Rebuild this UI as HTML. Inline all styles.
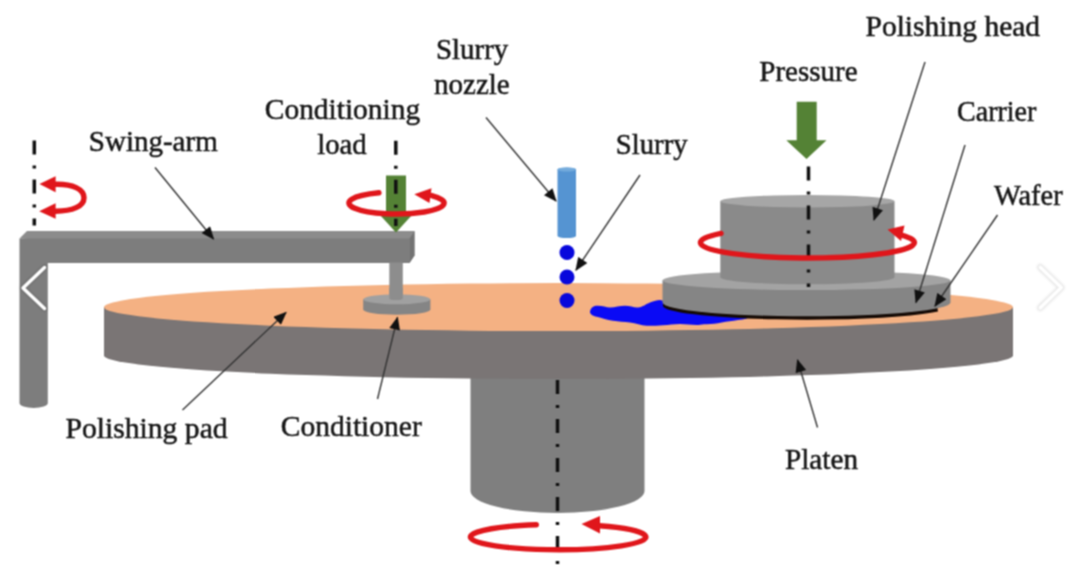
<!DOCTYPE html>
<html lang="en">
<head>
<meta charset="utf-8">
<title>CMP schematic</title>
<style>
html,body{margin:0;padding:0;background:#fff;}
body{width:1080px;height:570px;overflow:hidden;position:relative;font-family:"Liberation Serif",serif;}
svg{position:absolute;left:0;top:0;display:block;}
text{font-family:"Liberation Serif",serif;font-size:29px;fill:#161616;stroke:#161616;stroke-width:0.5px;}
.ln{stroke:#333;stroke-width:1.4;fill:none;}
.ax{stroke:#111;stroke-width:3.5;fill:none;stroke-dasharray:14 11 3 11;}
.red{stroke:#e0161b;stroke-width:5.4;fill:none;stroke-linecap:round;}
.redf{fill:#e0161b;}
</style>
</head>
<body>
<svg width="1080" height="570" viewBox="0 0 1080 570">
<defs>
<marker id="ah" viewBox="0 0 12 10" refX="11" refY="5" markerWidth="14" markerHeight="11" markerUnits="userSpaceOnUse" orient="auto">
<path d="M0,0 L12,5 L0,10 Z" fill="#111"/>
</marker>
<filter id="sh" x="-50%" y="-50%" width="200%" height="200%"><feGaussianBlur stdDeviation="1.2"/></filter>
<filter id="soft" x="0" y="0" width="1080" height="570" filterUnits="userSpaceOnUse" color-interpolation-filters="sRGB"><feConvolveMatrix order="3" kernelMatrix="1 2 1 2 4 2 1 2 1" divisor="16" edgeMode="duplicate" preserveAlpha="false"/></filter>
</defs>
<g filter="url(#soft)">
<rect width="1080" height="570" fill="#fff"/>

<!-- shaft under platen -->
<path d="M470.5,360 L470.5,491 A87,22 0 0 0 644.5,491 L644.5,360 Z" fill="#7f7f7f"/>

<!-- platen side -->
<path d="M104,307 L104,355.5 A454.5,23.5 0 0 0 1013,355.5 L1013,307 Z" fill="#7a7575"/>
<!-- pad top -->
<ellipse cx="558.5" cy="307.1" rx="454.5" ry="24" fill="#f4b183"/>

<!-- slurry blob -->
<path id="blob" d="M590,311.7 C591,307 594,306 597,305.8 C602,305.5 606,307.5 610,307.5 C615,307.5 620,305.8 625,305.8 C630,305.8 634,307.8 638,307.5 C643,307 646,304 650,302.5 C654,301 657,300 660,300 L664,301 L700,310 L748,316.5 L747,318.5 C744,319.5 741,319.5 738,320 C732,321 727,321.5 721.7,322.5 C716,323.5 710,324.5 705,324.2 C702,324 699,325 696.7,325 C691,325 686,324 680,324 C674,324 669,325 663,325.2 C657,325.5 652,326 646.7,325.8 C641,325.5 636,323 630,322.5 C624,322 619,321.5 613,320.8 C607,320 602,318 596.7,316.7 C593,315.8 590,314.5 590,311.7 Z" fill="#0a0af5"/>

<!-- wafer -->
<path d="M663,305.5 A144,14 0 0 0 938,311.5 L936,299 L663,299 Z" fill="#140a05"/>
<!-- carrier -->
<path d="M662.5,280.3 L662.5,302.5 A144,13.8 0 0 0 950.5,302.5 L950.5,280.3 Z" fill="#858585"/>
<ellipse cx="806.5" cy="280.3" rx="144" ry="9.8" fill="#a3a3a3"/>

<!-- red ring back half (behind head) -->
<!-- head -->
<path d="M720.3,201.2 L720.3,277.3 A87.1,6.9 0 0 0 894.5,277.3 L894.5,201.2 Z" fill="#8a8a8a"/>
<ellipse cx="807.4" cy="201.2" rx="87.1" ry="6.3" fill="#a6a6a6"/>

<!-- arm -->
<path d="M19.5,238.5 L27,231 L414.5,231 L414.5,255.5 L409.5,263 Z" fill="#8c8c8c"/>
<path d="M19.5,238.5 L409.5,238.5 L409.5,263 L47.8,263 L47.8,403 A14.15,5 0 0 1 19.5,403 Z" fill="#7d7d7d"/>
<path d="M409.5,238.5 L414.5,231 L414.5,255.5 L409.5,263 Z" fill="#737373"/>

<!-- conditioner -->
<rect x="389.3" y="262.5" width="13.5" height="36" fill="#8d8d8d"/>
<path d="M363.2,299.3 L363.2,309.5 A33.6,5.2 0 0 0 430.4,309.5 L430.4,299.3 Z" fill="#858585"/>
<ellipse cx="396.8" cy="299.3" rx="33.6" ry="5" fill="#a0a0a0"/>
<path d="M389.3,288 L402.8,288 L402.8,298.5 A6.75,1.6 0 0 1 389.3,298.5 Z" fill="#8d8d8d"/>

<!-- nozzle -->
<path d="M557.5,169.5 A9.25,2 0 0 1 576,169.5 L576,236 A9.25,2 0 0 1 557.5,236 Z" fill="#5594d2"/>
<ellipse cx="566.75" cy="169.5" rx="9.25" ry="2" fill="#74abdc"/>
<circle cx="567" cy="252.5" r="7.5" fill="#0808dc"/>
<circle cx="567" cy="277" r="7.5" fill="#0808dc"/>
<circle cx="567" cy="300.5" r="7.5" fill="#0808dc"/>

<!-- green arrows -->
<path d="M796.7,101.7 L816.7,101.7 L816.7,140.3 L826.5,140.3 L806.5,159 L786.3,140.3 L796.7,140.3 Z" fill="#548235"/>
<path d="M386,175.5 L406,175.5 L406,215 L412,215 L396,232.5 L380,215 L386,215 Z" fill="#548235"/>

<!-- axes -->
<line class="ax" x1="34.3" y1="140.5" x2="34.3" y2="225.5" stroke-dasharray="14.5 11 3 11"/>
<line class="ax" x1="395.8" y1="140.8" x2="395.8" y2="226" stroke-dasharray="14.5 11 3 11"/>
<line class="ax" x1="808.5" y1="166.5" x2="808.5" y2="287"/>
<line class="ax" x1="557.5" y1="380" x2="557.5" y2="564"/>

<!-- red rotation arrows -->
<!-- swing arm -->
<path class="red" d="M54,184.3 C73,183.5 84,189.5 84,197.7 C84,206 73,211.5 54,211.2" stroke-width="5.2" stroke-linecap="butt"/>
<path class="redf" d="M39.5,184 L55.6,176.3 L55.6,192.2 Z"/>
<path class="redf" d="M39.2,211.3 L55.6,203.2 L55.6,218.8 Z"/>
<!-- conditioner ring -->
<path class="red" d="M378.9,192.8 A47.6,11 0 1 0 431.7,195.6" stroke-width="5"/>
<path class="redf" d="M414.3,194.2 L431.5,188.3 L429.5,203 Z"/>
<!-- head ring -->
<path class="red" d="M721,233.4 A107,15.5 0 1 0 900.2,234.8"/>
<path class="redf" d="M887.5,229.5 L904.5,225.5 L901,241 Z"/>
<!-- bottom ring -->
<path class="red" d="M536.3,524.7 A87.7,12.7 0 1 0 599.5,525.8" stroke-width="5"/>
<path class="redf" d="M581.5,524 L600,516 L600,533.5 Z"/>

<!-- leader lines -->
<line class="ln" x1="155" y1="167.5" x2="213.5" y2="239" marker-end="url(#ah)"/>
<line class="ln" x1="486" y1="117.5" x2="556" y2="201" marker-end="url(#ah)"/>
<line class="ln" x1="640" y1="175" x2="576" y2="270" marker-end="url(#ah)"/>
<line class="ln" x1="925" y1="62" x2="874" y2="220" marker-end="url(#ah)"/>
<line class="ln" x1="965" y1="145" x2="916" y2="302.5" marker-end="url(#ah)"/>
<line class="ln" x1="997.5" y1="215" x2="935" y2="306" marker-end="url(#ah)"/>
<line class="ln" x1="182.5" y1="410" x2="286" y2="312.5" marker-end="url(#ah)"/>
<line class="ln" x1="377.5" y1="399" x2="397.5" y2="317.5" marker-end="url(#ah)"/>
<line class="ln" x1="817.5" y1="427.5" x2="797.5" y2="360" marker-end="url(#ah)"/>

<!-- labels -->
<text x="88.8" y="151" textLength="128.9" lengthAdjust="spacingAndGlyphs">Swing-arm</text>
<text x="264.8" y="119" textLength="155.3" lengthAdjust="spacingAndGlyphs">Conditioning</text>
<text x="317.2" y="154" textLength="49.4" lengthAdjust="spacingAndGlyphs">load</text>
<text x="436.0" y="59" textLength="72.2" lengthAdjust="spacingAndGlyphs">Slurry</text>
<text x="434.0" y="94" textLength="75.7" lengthAdjust="spacingAndGlyphs">nozzle</text>
<text x="615.8" y="154.4" textLength="71.8" lengthAdjust="spacingAndGlyphs">Slurry</text>
<text x="759.3" y="81" textLength="98.3" lengthAdjust="spacingAndGlyphs">Pressure</text>
<text x="865.5" y="36" textLength="174.6" lengthAdjust="spacingAndGlyphs">Polishing head</text>
<text x="957.0" y="121" textLength="79.4" lengthAdjust="spacingAndGlyphs">Carrier</text>
<text x="994.0" y="205" textLength="68.6" lengthAdjust="spacingAndGlyphs">Wafer</text>
<text x="65.4" y="438" textLength="162.3" lengthAdjust="spacingAndGlyphs">Polishing pad</text>
<text x="280.7" y="436" textLength="141.1" lengthAdjust="spacingAndGlyphs">Conditioner</text>
<text x="785.0" y="469" textLength="73.0" lengthAdjust="spacingAndGlyphs">Platen</text>

<!-- carousel chevrons -->
<g fill="none" stroke-linecap="round" stroke-linejoin="round">
<polyline points="44.5,267.5 23,288 44.5,308.5" stroke="#000" stroke-opacity="0.10" stroke-width="6.5" filter="url(#sh)"/>
<polyline points="44.5,267.5 23,288 44.5,308.5" stroke="#fff" stroke-width="3.4"/>
<polyline points="1040.3,267.3 1061.3,287.5 1040.3,307.7" stroke="#000" stroke-opacity="0.10" stroke-width="6.5" filter="url(#sh)"/>
<polyline points="1040.3,267.3 1061.3,287.5 1040.3,307.7" stroke="#fff" stroke-width="3.4"/>
</g>
</g>
</svg>
</body>
</html>
